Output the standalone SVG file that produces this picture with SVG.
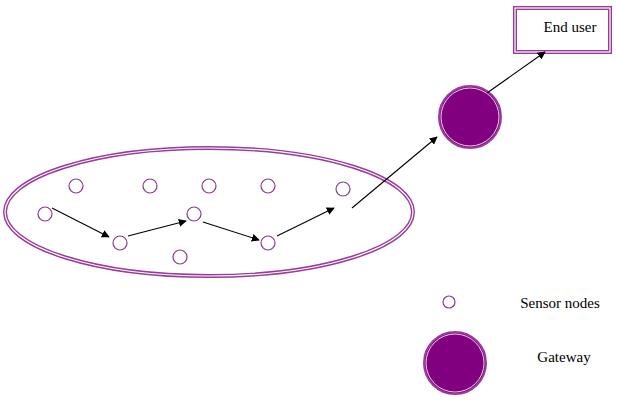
<svg xmlns="http://www.w3.org/2000/svg" width="617" height="401" viewBox="0 0 617 401">
<defs>
<marker id="ah" viewBox="0 0 10 10" refX="9" refY="5" markerWidth="8" markerHeight="8" markerUnits="userSpaceOnUse" orient="auto"><path d="M0,0 L10,5 L0,10 z" fill="#000"/></marker>
<style>
.sn{fill:#fff;stroke:#8a3a8a;stroke-width:1.2}
.gw{fill:#800080;stroke:#9a3a9a;stroke-width:2}
.gw2{fill:none;stroke:#fff;stroke-width:0.8}
.ar{stroke:#000;stroke-width:1.1;fill:none;marker-end:url(#ah)}
.tx{font-family:"Liberation Serif","DejaVu Serif",serif;font-size:15px;fill:#000}
</style>
</defs>
<rect width="617" height="401" fill="#fff"/>
<g id="region">
<ellipse cx="209" cy="212" rx="204" ry="64" fill="none" stroke="#9a3a9a" stroke-width="4"/>
<ellipse cx="209" cy="212" rx="204" ry="64" fill="none" stroke="#fff" stroke-width="1.2"/>
</g>
<g id="sensors">
<circle id="s1" class="sn" cx="76" cy="186" r="7"/>
<circle id="s2" class="sn" cx="150" cy="186" r="7"/>
<circle id="s3" class="sn" cx="209" cy="186" r="7"/>
<circle id="s4" class="sn" cx="268" cy="186" r="7"/>
<circle id="s5" class="sn" cx="343" cy="189" r="7"/>
<circle id="s6" class="sn" cx="45" cy="214" r="7"/>
<circle id="s7" class="sn" cx="120" cy="243" r="7"/>
<circle id="s8" class="sn" cx="194" cy="214" r="7"/>
<circle id="s9" class="sn" cx="268" cy="243" r="7"/>
<circle id="s10" class="sn" cx="180" cy="257" r="7"/>
</g>
<g id="gateway">
<circle class="gw" cx="470" cy="117" r="31"/>
<circle class="gw2" cx="470" cy="117" r="29"/>
</g>
<g id="enduser">
<rect x="515" y="8" width="95" height="44" fill="#fff" stroke="#9a3a9a" stroke-width="4"/>
<rect x="515" y="8" width="95" height="44" fill="none" stroke="#fff" stroke-width="1.2"/>
<text class="tx" x="570" y="32" text-anchor="middle">End user</text>
</g>
<g id="connectors">
<line class="ar" x1="52" y1="208" x2="109" y2="237"/>
<line class="ar" x1="128" y1="236" x2="186" y2="221"/>
<line class="ar" x1="203" y1="222" x2="259" y2="240"/>
<line class="ar" x1="277" y1="236" x2="334" y2="208"/>
<line class="ar" x1="352" y1="208" x2="437" y2="137"/>
<line class="ar" x1="487" y1="93" x2="545" y2="52"/>
</g>
<g id="legend">
<circle class="sn" cx="449" cy="302" r="6"/>
<text class="tx" x="560" y="308" text-anchor="middle">Sensor nodes</text>
<circle class="gw" cx="455" cy="363" r="31"/>
<circle class="gw2" cx="455" cy="363" r="29"/>
<text class="tx" x="564" y="362" text-anchor="middle">Gateway</text>
</g>
</svg>
